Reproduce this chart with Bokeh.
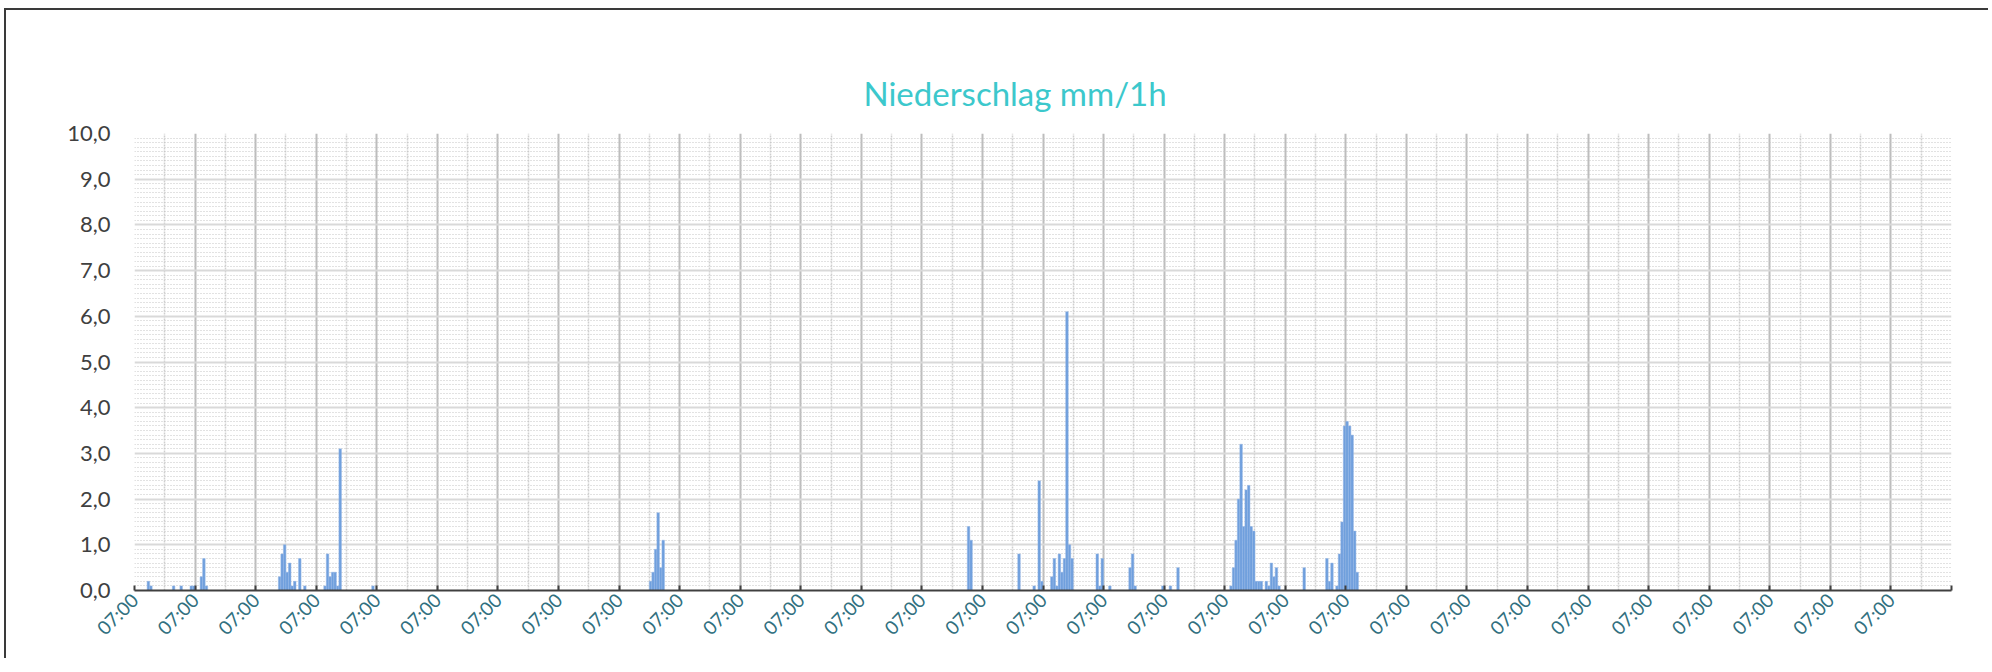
from bokeh.plotting import figure
from bokeh.models import FixedTicker, CustomJSTickFormatter, Range1d
from bokeh.embed import file_html
from bokeh.resources import INLINE
import math

# ---- data: hourly precipitation (hour offset from 07:00 of day 0) ----
rain_hours = [5, 6, 15, 18, 22, 23, 26, 27, 28,
              57, 58, 59, 60, 61, 62, 63, 65, 67,
              75, 76, 77, 78, 79, 80, 81,
              94,
              204, 205, 206, 207, 208, 209,
              330, 331,
              350, 356, 358, 359,
              363, 364, 365, 366, 367, 368, 369, 370, 371,
              381, 382, 383, 386,
              394, 395, 396,
              407, 410, 413,
              434, 435, 436, 437, 438, 439, 440, 441, 442, 443, 444, 445, 446,
              448, 449, 450, 451, 452, 453,
              463,
              472, 473, 474,
              476, 477, 478, 479, 480, 481, 482, 483, 484]
rain_mm = [0.2, 0.1, 0.1, 0.1, 0.1, 0.1, 0.3, 0.7, 0.1,
           0.3, 0.8, 1.0, 0.4, 0.6, 0.1, 0.2, 0.7, 0.1,
           0.1, 0.8, 0.3, 0.4, 0.4, 0.1, 3.1,
           0.1,
           0.2, 0.4, 0.9, 1.7, 0.5, 1.1,
           1.4, 1.1,
           0.8, 0.1, 2.4, 0.2,
           0.3, 0.7, 0.1, 0.8, 0.4, 0.7, 6.1, 1.0, 0.7,
           0.8, 0.1, 0.7, 0.1,
           0.5, 0.8, 0.1,
           0.1, 0.1, 0.5,
           0.1, 0.5, 1.1, 2.0, 3.2, 1.4, 2.2, 2.3, 1.4, 1.3, 0.2, 0.2, 0.2,
           0.2, 0.1, 0.6, 0.3, 0.5, 0.1,
           0.5,
           0.7, 0.2, 0.6,
           0.1, 0.8, 1.5, 3.6, 3.7, 3.6, 3.4, 1.3, 0.4]

n_days = 30
day_label = "07:00"
title_text = "Niederschlag mm/1h"
y_ticks = list(range(0, 11))

FONT = "Lato"

W, H = 1984, 650
p = figure(width=W, height=H, output_backend="svg", toolbar_location=None,
           x_range=Range1d(0, n_days * 24), y_range=Range1d(0, 10),
           min_border_left=128, min_border_right=W - 1945, min_border_top=123,
           min_border_bottom=H - 580, title=title_text)
p.outline_line_color = None
p.background_fill_color = "white"
p.border_fill_color = "white"

p.title.align = "left"
p.title.offset = 729
p.title.text_font = FONT
p.title.text_font_size = "33px"
p.title.text_font_style = "normal"
p.title.text_color = "#3CC8CC"
p.title.standoff = 41

day_ticks = [d * 24 for d in range(n_days + 1)]
mid_ticks = [d * 24 + 12 for d in range(n_days)]
p.xaxis.ticker = FixedTicker(ticks=day_ticks, minor_ticks=mid_ticks)
p.xaxis.formatter = CustomJSTickFormatter(
    args=dict(lab=day_label, last=n_days * 24),
    code="return tick < last ? lab : '';")
p.xaxis.major_label_orientation = math.pi / 4
p.xaxis.major_label_text_font = FONT
p.xaxis.major_label_text_font_size = "19px"
p.xaxis.major_label_text_color = "#31707F"
p.xaxis.major_label_standoff = 2
p.xaxis.axis_line_color = "#404040"
p.xaxis.axis_line_width = 2
p.xaxis.major_tick_line_color = "#404040"
p.xaxis.major_tick_line_width = 2
p.xaxis.major_tick_in = 5
p.xaxis.major_tick_out = 0
p.xaxis.minor_tick_line_color = None

minor_y = [round(i * 0.1, 1) for i in range(101) if i % 10 != 0]
p.yaxis.ticker = FixedTicker(ticks=y_ticks, minor_ticks=minor_y)
p.yaxis.formatter = CustomJSTickFormatter(code="return tick.toFixed(1).replace('.', ',');")
p.yaxis.major_label_text_font = FONT
p.yaxis.major_label_text_font_size = "22px"
p.yaxis.major_label_text_color = "#404040"
p.yaxis.axis_line_color = None
p.yaxis.major_tick_line_color = None
p.yaxis.minor_tick_line_color = None
p.yaxis.major_label_standoff = 18

p.xgrid.grid_line_color = "#BDBDBD"
p.xgrid.grid_line_width = 2
p.xgrid.minor_grid_line_color = "#CFCFCF"
p.xgrid.minor_grid_line_width = 1.5
p.xgrid.minor_grid_line_dash = "2 1"
p.ygrid.grid_line_color = "#D9D9D9"
p.ygrid.grid_line_width = 2
p.ygrid.minor_grid_line_color = "#C4C4C4"
p.ygrid.minor_grid_line_width = 1
p.ygrid.minor_grid_line_dash = "1 2"

p.vbar(x=[h + 0.5 for h in rain_hours], top=rain_mm, width=1.0, bottom=0,
       fill_color="#6F9FDD", line_color="#94B6E6", line_width=0.5)

# outer chart frame (left and top edges only, as in the reference)
p.styles = {"margin-left": "4px", "margin-top": "8px",
            "border-left": "2px solid #3a3a3a", "border-top": "2px solid #3a3a3a"}

html = file_html(p, INLINE)
html = html.replace("</head>", "<style>html, body { overflow: hidden !important; margin: 0 !important; }</style></head>", 1)
open("out.html", "w").write(html)
